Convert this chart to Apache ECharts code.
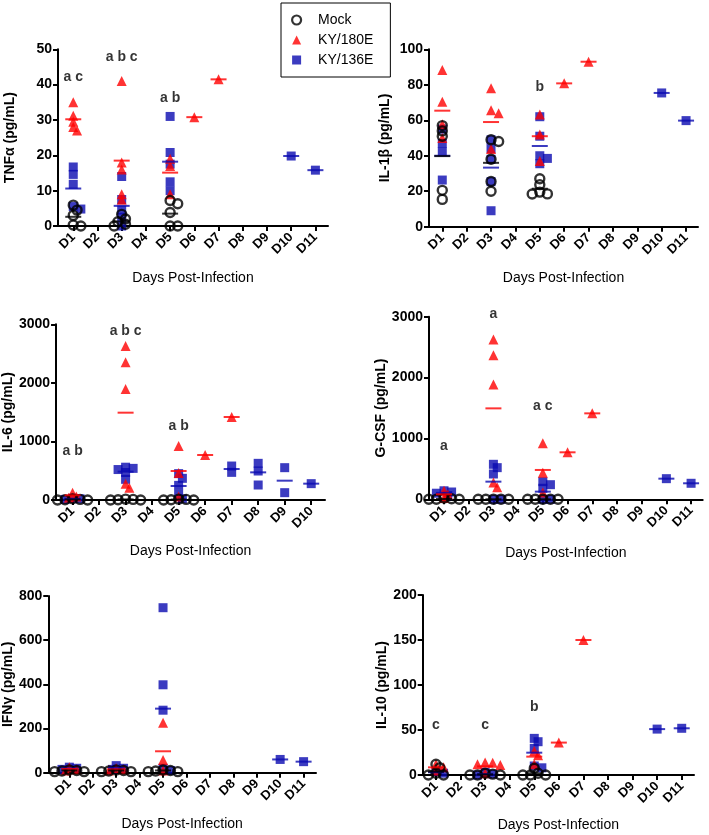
<!DOCTYPE html>
<html><head><meta charset="utf-8">
<script src="https://cdn.jsdelivr.net/npm/echarts@6/dist/echarts.min.js"></script>
<style>html,body{margin:0;padding:0;background:#fff}#c{width:709px;height:835px}</style>
</head><body><div id="c"></div>
<script>
// ---------------- DATA ----------------
const groupNames = ['Mock', 'KY/180E', 'KY/136E'];
const xTitle = 'Days Post-Infection';

// TNFα
const tnfMock = [[1, [5.9, 4.5, 3.0, 0.3, 0]], [3, [3.3, 2.0, 1.2, 0.5, 0]], [5, [7.2, 6.3, 3.8, 0, 0]]];
const tnfMockMean = [[1, 2.6], [3, 1.3], [5, 3.5]];
const tnfRed = [[1, [35, 31.2, 29.5, 28, 27]], [3, [41, 18, 16, 9, 7.4]], [5, [19, 17, 9]], [6, [30.8]], [7, [41.5]]];
const tnfRedMean = [[1, 30.2], [3, 18.5], [5, 15.1], [6, 30.8], [7, 41.5]];
const tnfBlue = [[1, [16.7, 14.6, 11.8, 5.5, 4.8]], [3, [14, 7.5, 4.5, 2.5, 0]], [5, [31, 20.8, 17.5, 12.5, 10]], [10, [19.8]], [11, [15.8]]];
const tnfBlueMean = [[1, 10.6], [3, 5.7], [5, 18.2], [10, 19.8], [11, 15.8]];
const tnfNotes = [[1, 42.2, 'a c'], [3, 47.9, 'a b c'], [5, 36.3, 'a b']];

// IL-1β
const il1Mock = [[1, [57, 54, 51, 20.5, 15.4]], [3, [49, 48, 38, 25.5, 20]], [5, [27, 23.7, 19.5, 18.5, 18.4]]];
const il1MockMean = [[1, 39.8], [3, 36], [5, 21.4]];
const il1Red = [[1, [88.3, 70.5, 57.7, 50]], [3, [78, 65.6, 64, 43.8]], [5, [63.3, 52, 37]], [6, [80.8]], [7, [93]]];
const il1RedMean = [[1, 65.4], [3, 59], [5, 51], [6, 80.8], [7, 93]];
const il1Blue = [[1, [55, 47, 42.3, 26.3]], [3, [49, 44, 38, 25.4, 9]], [5, [62, 51, 40, 38.5, 35.5]], [10, [75.4]], [11, [59.8]]];
const il1BlueMean = [[1, 40], [3, 33.3], [5, 45.5], [10, 75.4], [11, 59.8]];
const il1Notes = [[5, 78.9, 'b']];

// IL-6
const il6Mock = [[1, [20, 10, 5, 0, 0]], [3, [15, 10, 5, 0, 0]], [5, [15, 10, 5, 0, 0]]];
const il6MockMean = [[1, 10], [3, 10], [5, 8]];
const il6Red = [[1, [125, 60, 40]], [3, [2630, 2350, 1895, 279, 210]], [5, [922, 461, 60]], [6, [768]], [7, [1417]]];
const il6RedMean = [[1, 80], [3, 1491], [5, 495], [6, 768], [7, 1417]];
const il6Blue = [[1, [30, 20, 10]], [3, [560, 540, 520, 470, 353]], [5, [450, 370, 250, 100, 20]], [7, [580, 472]], [8, [626, 495, 256]], [9, [552, 125]], [10, [279]]];
const il6BlueMean = [[1, 20], [3, 484], [5, 239], [7, 529], [8, 472], [9, 330], [10, 279]];
const il6Notes = [[1, 836, 'a b'], [3, 2885, 'a b c'], [5, 1268, 'a b']];

// G-CSF
const gcsfMock = [[1, [20, 10, 0, 0, 0]], [3, [0, 0, 0, 0, 0]], [5, [0, 0, 0, 0, 0]]];
const gcsfMockMean = [[1, 5], [3, 0], [5, 0]];
const gcsfRed = [[1, [142, 80, 20]], [3, [2627, 2365, 1888, 274, 197]], [5, [920, 438, 110]], [6, [772]], [7, [1412]]];
const gcsfRedMean = [[1, 82], [3, 1494], [5, 482], [6, 772], [7, 1412]];
const gcsfBlue = [[1, [140, 120, 100, 60]], [3, [575, 520, 416, 0, 0]], [5, [290, 240, 181, 0, 0]], [10, [339]], [11, [263]]];
const gcsfBlueMean = [[1, 105], [3, 290], [5, 126], [10, 339], [11, 263]];
const gcsfNotes = [[1, 880, 'a'], [3, 3044, 'a'], [5, 1533, 'a c']];

// IFNγ
const ifnMock = [[1, [12, 10, 8, 5, 5]], [3, [12, 10, 8, 5, 5]], [5, [12, 10, 8, 5, 5]]];
const ifnMockMean = [[1, 10], [3, 10], [5, 10]];
const ifnRed = [[1, [25, 15, 10]], [3, [20, 15, 10]], [5, [226, 57, 10]]];
const ifnRedMean = [[1, 17], [3, 15], [5, 97]];
const ifnBlue = [[1, [25, 20, 15]], [3, [32, 20, 15]], [5, [747, 398, 283, 20, 10]], [10, [60]], [11, [50]]];
const ifnBlueMean = [[1, 20], [3, 22], [5, 290], [10, 60], [11, 50]];
const ifnNotes = [];

// IL-10
const il10Mock = [[1, [11.9, 8, 2, 0, 0]], [3, [2, 1, 0, 0, 0]], [5, [7.5, 2, 0, 0, 0]]];
const il10MockMean = [[1, 3.7], [3, 0.6], [5, 1.9]];
const il10Red = [[1, [12, 8.5, 5]], [3, [14, 13.5, 12, 11, 2]], [5, [26.7, 22, 11.9]], [6, [36]], [7, [150]]];
const il10RedMean = [[1, 8.5], [3, 9.6], [5, 20.4], [6, 36], [7, 150]];
const il10Blue = [[1, [4, 2]], [3, [3, 1, 0]], [5, [40.7, 37, 29.6, 10, 8]], [10, [51]], [11, [51.9]]];
const il10BlueMean = [[1, 3], [3, 1], [5, 24.8], [10, 51], [11, 51.9]];
const il10Notes = [[1, 55.6, 'c'], [3, 55.6, 'c'], [5, 75.6, 'b']];

const panelData = [
  {yName: 'TNFα (pg/mL)', yMax: 50, yStep: 10, nDays: 11, groups: [tnfMock, tnfRed, tnfBlue], means: [tnfMockMean, tnfRedMean, tnfBlueMean], notes: tnfNotes},
  {yName: 'IL-1β (pg/mL)', yMax: 100, yStep: 20, nDays: 11, groups: [il1Mock, il1Red, il1Blue], means: [il1MockMean, il1RedMean, il1BlueMean], notes: il1Notes},
  {yName: 'IL-6 (pg/mL)', yMax: 3000, yStep: 1000, nDays: 10, groups: [il6Mock, il6Red, il6Blue], means: [il6MockMean, il6RedMean, il6BlueMean], notes: il6Notes},
  {yName: 'G-CSF (pg/mL)', yMax: 3000, yStep: 1000, nDays: 11, groups: [gcsfMock, gcsfRed, gcsfBlue], means: [gcsfMockMean, gcsfRedMean, gcsfBlueMean], notes: gcsfNotes},
  {yName: 'IFNγ (pg/mL)', yMax: 800, yStep: 200, nDays: 11, groups: [ifnMock, ifnRed, ifnBlue], means: [ifnMockMean, ifnRedMean, ifnBlueMean], notes: ifnNotes},
  {yName: 'IL-10 (pg/mL)', yMax: 200, yStep: 50, nDays: 11, groups: [il10Mock, il10Red, il10Blue], means: [il10MockMean, il10RedMean, il10BlueMean], notes: il10Notes}
];

// ---------------- LAYOUT / STYLE ----------------
const FONT = '"Liberation Sans", Arial, Helvetica, sans-serif';
const layout = [
  {left: 58, top: 49.3, width: 270, height: 176.7, xMin: 0.37, xMax: 11.52, xGap: 45, yGap: 41},
  {left: 429, top: 49.3, width: 269, height: 177.4, xMin: 0.455, xMax: 11.49, xGap: 44, yGap: 37},
  {left: 53.3, top: 324.3, width: 271.7, height: 175.7, xMin: 0.377, xMax: 10.52, xGap: 44, yGap: 36},
  {left: 429, top: 316.7, width: 273.7, height: 182.6, xMin: 0.393, xMax: 11.47, xGap: 47, yGap: 38.7},
  {left: 40, top: 596, width: 276, height: 176.7, xMin: 0.10, xMax: 11.53, xGap: 44, yGap: 22.7},
  {left: 422.7, top: 595, width: 271.3, height: 180, xMin: 0.46, xMax: 11.5, xGap: 43, yGap: 32.4}
];
const RED = '#ff0000', BLUE = '#0a0ab0', BLACK = '#000';
const groupStyle = [
  {symbol: 'circle', size: 9, itemStyle: {color: 'rgba(0,0,0,0)', borderColor: BLACK, borderWidth: 2.4}, color: BLACK},
  {symbol: 'triangle', size: 10, itemStyle: {color: RED}, color: RED},
  {symbol: 'rect', size: 9, itemStyle: {color: BLUE}, color: BLUE}
];
const drawOrder = [2, 1, 0];

// spread points of one group on one day horizontally (beeswarm-like), in pixel space
function swarm(values, day, pxX, pxY) {
  const placed = [], out = [];
  const step = 3.8, minD = 5;
  values.slice().sort((a, b) => b - a).forEach(v => {
    const py = v * pxY;
    let off = 0;
    for (let k = 0; k < 14; k++) {
      const cand = k === 0 ? 0 : (k % 2 ? 1 : -1) * Math.ceil(k / 2) * step;
      if (placed.every(p => Math.hypot(p[0] - cand, p[1] - py) >= minD)) { off = cand; break; }
    }
    placed.push([off, py]);
    out.push([day + off / pxX, v]);
  });
  return out;
}

const grid = [], xAxis = [], yAxis = [], series = [];
panelData.forEach((p, i) => {
  const L = layout[i];
  grid.push({left: L.left, top: L.top, width: L.width, height: L.height, containLabel: false});
  const dayTicks = [];
  for (let d = 1; d <= p.nDays; d++) dayTicks.push(d);
  xAxis.push({
    gridIndex: i, type: 'value', min: L.xMin, max: L.xMax,
    name: xTitle, nameLocation: 'middle', nameGap: L.xGap,
    nameTextStyle: {fontFamily: FONT, fontSize: 14, color: BLACK},
    axisLine: {show: true, onZero: false, lineStyle: {color: BLACK, width: 2}},
    axisTick: {show: true, customValues: dayTicks, length: 5, lineStyle: {color: BLACK, width: 2}},
    axisLabel: {customValues: dayTicks, formatter: v => 'D' + v, rotate: 45, margin: 9,
      fontFamily: FONT, fontSize: 13, fontWeight: 'bold', color: BLACK},
    splitLine: {show: false}
  });
  yAxis.push({
    gridIndex: i, type: 'value', min: 0, max: p.yMax, interval: p.yStep,
    name: p.yName, nameLocation: 'middle', nameGap: L.yGap,
    nameTextStyle: {fontFamily: FONT, fontSize: 14, fontWeight: 'bold', color: BLACK},
    axisLine: {show: true, lineStyle: {color: BLACK, width: 2}},
    axisTick: {show: true, length: 5, lineStyle: {color: BLACK, width: 2}},
    axisLabel: {margin: 6, formatter: v => String(v), fontFamily: FONT, fontSize: 14, fontWeight: 'bold', color: BLACK},
    splitLine: {show: false}
  });
  const pxX = L.width / (L.xMax - L.xMin), pxY = L.height / p.yMax;
  drawOrder.forEach(g => {
    const st = groupStyle[g];
    const pts = [];
    p.groups[g].forEach(([day, vals]) => swarm(vals, day, pxX, pxY).forEach(pt => pts.push(pt)));
    series.push({
      type: 'scatter', name: groupNames[g], xAxisIndex: i, yAxisIndex: i,
      symbol: st.symbol, symbolSize: st.size, itemStyle: st.itemStyle,
      data: pts, z: 2, silent: true, clip: false
    });
  });
  drawOrder.forEach(g => {
    series.push({
      type: 'scatter', name: groupNames[g] + ' mean', xAxisIndex: i, yAxisIndex: i,
      symbol: 'rect', symbolSize: [16, 2], itemStyle: {color: groupStyle[g].color},
      data: p.means[g], z: 3, silent: true, clip: false
    });
  });
  if (p.notes.length) {
    series.push({
      type: 'scatter', name: 'notes', xAxisIndex: i, yAxisIndex: i,
      symbolSize: 0, data: p.notes, z: 4, silent: true, clip: false,
      label: {show: true, position: 'inside', formatter: q => q.data[2],
        fontFamily: FONT, fontSize: 14, fontWeight: 'bold', color: BLACK}
    });
  }
});

const chart = echarts.init(document.getElementById('c'), null, {renderer: 'canvas'});
chart.setOption({
  animation: false,
  backgroundColor: '#fff',
  grid, xAxis, yAxis, series,
  legend: {
    data: [
      {name: 'Mock', icon: 'circle', itemStyle: {color: 'rgba(0,0,0,0)', borderColor: BLACK, borderWidth: 2.2}},
      {name: 'KY/180E', icon: 'triangle', itemStyle: {color: RED}},
      {name: 'KY/136E', icon: 'rect', itemStyle: {color: BLUE}}
    ],
    orient: 'vertical', left: 281, top: 3,
    itemWidth: 9, itemHeight: 9, itemGap: 6,
    padding: [10, 17, 10, 10],
    borderColor: BLACK, borderWidth: 1,
    selectedMode: false,
    textStyle: {fontFamily: FONT, fontSize: 14, lineHeight: 14, color: BLACK, padding: [0, 0, 0, 12]}
  }
});
</script>
</body></html>
